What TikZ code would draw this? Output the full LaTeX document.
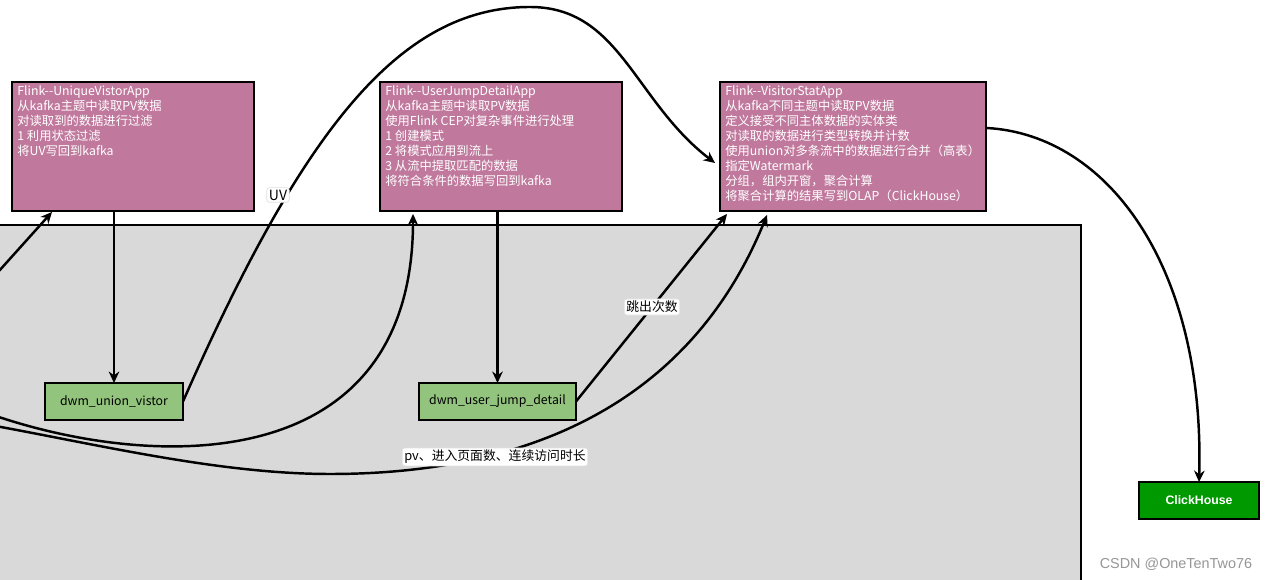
\documentclass[tikz,border=0pt]{standalone}
\usepackage{fontspec}
\setmainfont{Noto Sans CJK SC}
\newfontfamily\arialfont{Liberation Sans}
\usetikzlibrary{arrows.meta,calc}
\definecolor{appfill}{RGB}{192,121,157}
\definecolor{dwmfill}{RGB}{147,196,125}
\definecolor{olapfill}{RGB}{0,153,0}
\definecolor{layerfill}{RGB}{217,217,217}
\definecolor{markgray}{RGB}{150,150,150}
\begin{document}
\begin{tikzpicture}[x=0.02cm,y=-0.02cm,font=\fontsize{7}{8.55}\selectfont]
\tikzstyle{app}=[draw, line width=0.8pt, fill=appfill, inner sep=0pt, outer sep=0pt, minimum height=2.58cm]
\tikzstyle{apptext}=[text=white, align=left, inner sep=0pt, anchor=north west]
\tikzstyle{dwm}=[draw, line width=0.7pt, fill=dwmfill, inner sep=0pt, outer sep=0pt, minimum height=0.74cm]
\tikzstyle{flow}=[line width=1.4pt, -{Stealth[length=6.5pt,width=6pt]}]
\tikzstyle{tag}=[fill=white, draw=black!12, rounded corners=1.5pt, inner sep=1.2pt, font=\fontsize{7.3}{8}\selectfont]
\useasboundingbox (0,0) rectangle (1275,580);
\clip (0,0) rectangle (1275,580);
\fill[white] (0,0) rectangle (1275,580);
\draw[fill=layerfill, line width=0.6pt] (-10,225) rectangle (1081,600);
\node[app, minimum width=4.84cm] (A) at (133,146.5) {};
\node[app, minimum width=4.84cm] (B) at (501,146.5) {};
\node[app, minimum width=5.32cm] (C) at (853,146.5) {};
\node[apptext] (Atext) at ($(A.north west)+(5,3)$) {Flink-{}-UniqueVistorApp\\从kafka主题中读取PV数据\\对读取到的数据进行过滤\\1 利用状态过滤\\将UV写回到kafka};
\node[apptext] (Btext) at ($(B.north west)+(5,3)$) {Flink-{}-UserJumpDetailApp\\从kafka主题中读取PV数据\\使用Flink CEP对复杂事件进行处理\\1 创建模式\\2 将模式应用到流上\\3 从流中提取匹配的数据\\将符合条件的数据写回到kafka};
\node[apptext] (Ctext) at ($(C.north west)+(5,3)$) {Flink-{}-VisitorStatApp\\从kafka不同主题中读取PV数据\\定义接受不同主体数据的实体类\\对读取的数据进行类型转换并计数\\使用union对多条流中的数据进行合并（高表）\\指定Watermark\\分组，组内开窗，聚合计算\\将聚合计算的结果写到OLAP（ClickHouse）};
\node[dwm, minimum width=2.76cm] (G1) at (114,401.5) {dwm\_union\_vistor};
\node[dwm, minimum width=3.14cm] (G2) at (497.5,401.5) {dwm\_user\_jump\_detail};
\node[draw, line width=0.7pt, fill=olapfill, text=white, inner sep=0pt, outer sep=0pt, minimum width=2.4cm, minimum height=0.74cm, font=\arialfont\bfseries\fontsize{7}{8}\selectfont] (CH) at (1199,500.5) {ClickHouse};
\coordinate (in1) at (-10,281);
\coordinate (in2) at (-10,414);
\coordinate (in3) at (-10,425);
\draw[flow] (in1) -- ($(A.south west)+(40,1)$);
\draw[flow] (A.south -| G1.north) -- (G1.north);
\draw[flow] (B.south -| G2.north) -- (G2.north);
\draw[flow] (G1.east) .. controls (303,129) and (400,7) .. (530,7) .. controls (620,7) and (634,101) .. ($(C.west)+(-5,16.5)$);
\draw[flow] (in2) .. controls (150,470) and (413,480) .. ($(B.south west)+(33,3)$);
\draw[flow] (in3) .. controls (100,445) and (220,474) .. (330,474) .. controls (560,474) and (700,380) .. ($(C.south west)+(47,4)$);
\draw[flow] (G2.east) -- ($(C.south west)+(7,3)$);
\draw[flow] ($(C.east)+(1,-18.5)$) .. controls (1110,135) and (1205,270) .. (CH.north);
\node[tag, font=\fontsize{8}{9}\selectfont] (uv) at (278,195) {UV};
\node[tag] (jump) at (652,307) {跳出次数};
\node[tag] (pv) at (495,457) {pv、进入页面数、连续访问时长};
\node[text=markgray, inner sep=0pt, font=\arialfont\fontsize{8.2}{9}\selectfont] (mark) at (1176,564) {CSDN @OneTenTwo76};
\end{tikzpicture}
\end{document}
